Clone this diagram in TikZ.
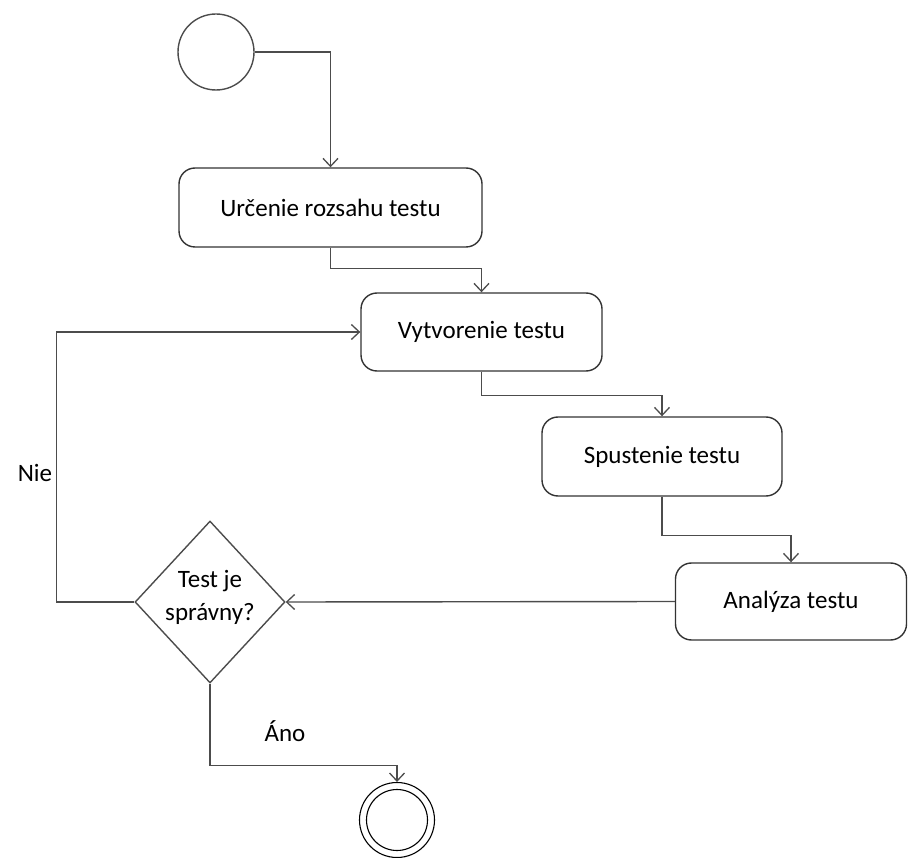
\documentclass[tikz,border=0pt]{standalone}
\usepackage{fontspec}
\setmainfont{Carlito}
\usetikzlibrary{shapes.geometric,arrows.meta}
\begin{document}
\begin{tikzpicture}[x=1pt,y=-1pt,
  every node/.style={font=\fontsize{25}{31}\selectfont},
  lineclr/.style={draw=black!70, line width=1.4pt},
  activity/.style={lineclr, draw=black!80, rectangle, rounded corners=16pt, inner sep=0pt},
  arr/.style={lineclr, -{Straight Barb[length=8pt,width=15pt,line width=1.3pt]}},
  decision/.style={lineclr, diamond, inner sep=0pt, minimum width=150pt, minimum height=162pt, align=center}
]
\useasboundingbox (0,0) rectangle (908,858);
\node[lineclr, circle, minimum size=76pt, inner sep=0pt] (start) at (216,52) {};
\node[activity, minimum width=303pt, minimum height=79pt] (b1) at (330.5,207.5) {Určenie rozsahu testu};
\node[activity, minimum width=241pt, minimum height=78pt] (b2) at (481.5,332) {Vytvorenie testu};
\node[activity, minimum width=240pt, minimum height=79pt] (b3) at (662,456.5) {Spustenie testu};
\node[activity, minimum width=231pt, minimum height=77pt] (b4) at (791,601.5) {Analýza testu};
\node[decision] (d) at (210,602) {};
\node[align=center, font=\fontsize{25}{33}\selectfont] (dt) at (210,597) {Test je\\správny?};
\node[lineclr, draw=black, line width=1.1pt, circle, minimum size=75pt, inner sep=0pt] (e) at (397,820) {};
\node[lineclr, draw=black, line width=1.1pt, circle, minimum size=61pt, inner sep=0pt] (ei) at (397,820) {};
\node (nie) at (35,473) {Nie};
\node (ano) at (285,731) {Áno};
\draw[arr] (start.east) -| (b1.north);
\draw[arr] (b1.south) -- ++(0,21) -| (b2.north);
\draw[arr] (b2.south) -- ++(0,24) -| (b3.north);
\draw[arr] (b3.south) -- ++(0,39) -| (b4.north);
\draw[arr] (b4.west) -- (d.east);
\draw[arr] (d.west) -- ++(-78,0) |- (b2.west);
\draw[arr] (d.south) -- ++(0,82) -| (e.north);
\end{tikzpicture}
\end{document}
